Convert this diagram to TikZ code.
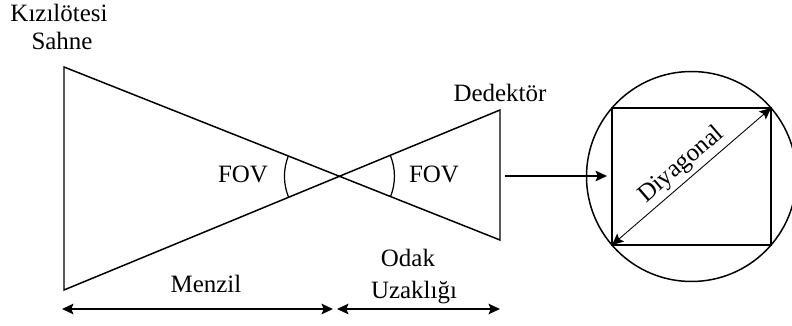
\documentclass[tikz,border=0pt]{standalone}
\usepackage{fontspec}
\setmainfont{Liberation Serif}
\usetikzlibrary{arrows.meta}
\tikzset{outline/.style={line width=.85pt,line join=miter}}
\tikzset{dim/.style={{Stealth[length=6.5pt,width=6pt,inset=1.2pt]}-{Stealth[length=6.5pt,width=6pt,inset=1.2pt]},line width=.85pt}}
\tikzset{ray/.style={-{Stealth[length=6.5pt,width=6pt,inset=1.2pt]},line width=.6pt}}
\tikzset{annot/.style={font=\fontsize{14.2}{16}\selectfont,inner sep=0pt,anchor=base}}

\begin{document}
\begin{tikzpicture}[x=.02cm,y=.02cm]
\useasboundingbox (0,0) rectangle (792,325);
\coordinate (s1) at (64,258);
\coordinate (s2) at (64,35);
\coordinate (d1) at (500,215);
\coordinate (d2) at (500,85);
\coordinate (c) at (intersection of s1--d2 and s2--d1);
\coordinate (dout) at (505,149);
\coordinate (r1) at (612,80);
\coordinate (r2) at (771,217);
\coordinate (rw) at (607,149);
\coordinate (m0) at (62,16);
\coordinate (m1) at (333,16);
\coordinate (m2) at (337,16);
\coordinate (m3) at (500,16);

% scene and detector
\draw [outline] (s1) -- (s2) -- (c) -- cycle;
\draw [outline] (c) -- (d1) -- (d2) -- cycle;
\draw [line width=.7pt] (c) ++(158.4:55) arc [start angle=158.4,end angle=202.4,radius=55];
\draw [line width=.7pt] (c) ++(-21.6:55) arc [start angle=-21.6,end angle=22.6,radius=55];

% detector face
\draw [outline] (691.5,148.5) circle [radius=105];
\draw [outline] (r1) rectangle (r2);
\draw [ray] (dout) -- (rw);
\draw [{Stealth[length=6.5pt,width=6pt,inset=1.2pt]}-{Stealth[length=6.5pt,width=6pt,inset=1.2pt]},line width=.5pt] (r1) -- node [annot,anchor=south,sloped,above=2pt] {Diyagonal} (r2);

% distances
\draw [dim] (m0) -- (m1);
\draw [dim] (m2) -- (m3);

\node [annot] (scene1) at (59,303) {Kızılötesi};
\node [annot] (scene2) at (62,275) {Sahne};
\node [annot] (det) at (500,223) {Dedektör};
\node [annot] (fov1) at (243,142) {FOV};
\node [annot] (fov2) at (434,142) {FOV};
\node [annot] (range) at (206,32) {Menzil};
\node [annot] (focal1) at (408,58) {Odak};
\node [annot] (focal2) at (414,27) {Uzaklığı};
\end{tikzpicture}
\end{document}
